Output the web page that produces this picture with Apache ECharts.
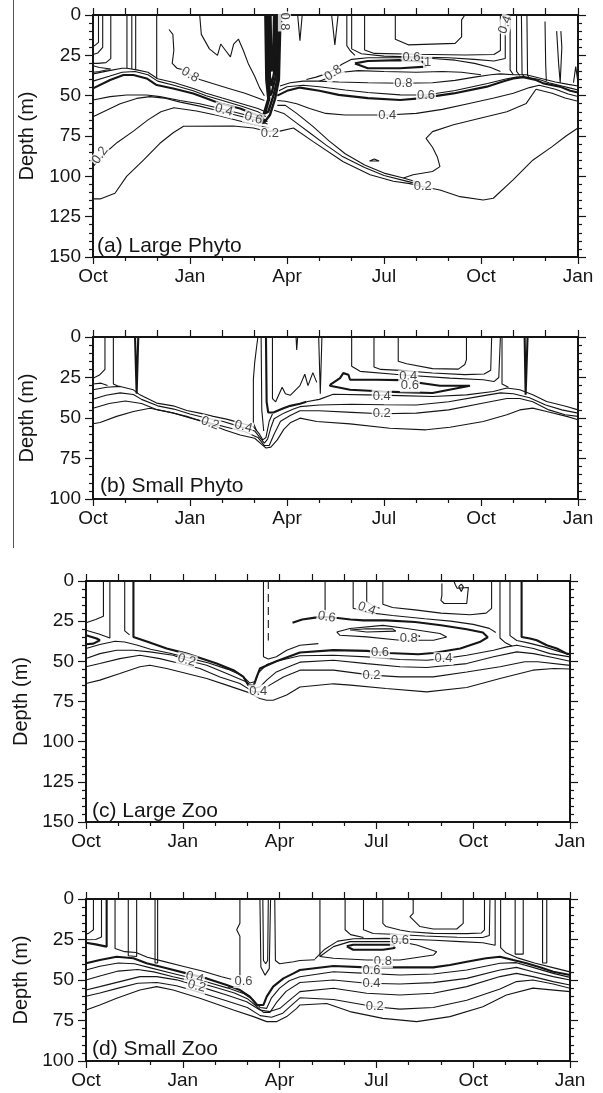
<!DOCTYPE html>
<html><head><meta charset="utf-8">
<script src="https://cdn.jsdelivr.net/npm/echarts@6/dist/echarts.min.js"></script>
<style>html,body{margin:0;padding:0;background:#fff}#c{width:603px;height:1093px}</style>
</head><body><div id="c"></div>
<script>
// ---------- axis/tick text ----------
const monthTicks = ['Oct','Jan','Apr','Jul','Oct','Jan'];
const depthMax = [150, 100, 150, 100];
const panelTitles = ['(a) Large Phyto', '(b) Small Phyto', '(c) Large Zoo', '(d) Small Zoo'];
const depthName = 'Depth (m)';

// ---------- contour lines: points are [months since 1 Oct, depth m] ----------
// Panel (a) Large Phyto
const a_thick = [
 [[0,45.5],[0.53,40.3],[0.94,37.2],[1.25,37.2],[1.66,39.3],[1.97,43.4],[2.48,45.5],[3.1,48.6],[3.52,51.7],[3.93,54.8],[4.55,58],[5.06,62],[5.37,66]],
 [[5.7,50],[6.0,47],[6.4,45],[7,47],[7.6,49.5],[8.5,51.5],[9.5,52.7],[10.1,51.7],[11.15,48.6],[12.18,44.4],[12.7,41],[13.0,39.3],[13.3,38.5],[13.7,40.3],[13.93,42.4],[14.44,44.4],[14.76,47],[15,48]],
 [[8.1,30],[8.5,28.5],[9.5,28],[10.2,29],[10.3,32],[9.5,33],[8.5,33],[8.1,30]]
];
const a_spike = [
 [[5.33,0],[5.36,40],[5.42,52],[5.27,62],[5.22,67],[5.3,66.5],[5.47,62],[5.63,52],[5.75,40],[5.8,0]],
 [[5.37,0],[5.4,40],[5.45,52],[5.32,61],[5.42,60],[5.58,50],[5.7,40],[5.75,0]],
 [[5.41,0],[5.43,40],[5.48,50],[5.53,48],[5.65,38],[5.7,0]],
 [[5.45,0],[5.47,38],[5.52,44],[5.6,36],[5.65,0]],
 [[5.49,0],[5.52,35],[5.57,30],[5.6,0]]
];
const a_lines = [
 [[0,114],[0.22,114],[0.68,110.5],[1.04,100],[1.56,90],[2.07,79.5],[2.48,73],[2.8,69],[4.34,68.8],[4.96,70],[5.37,72],[5.78,72],[6.2,70],[6.81,78.5],[7.74,91],[8.57,99],[9.29,103],[9.8,104.5],[10.1,106],[10.73,108.5],[11.35,112.6],[12.07,114.7],[12.38,113.6],[13,102],[13.6,90],[14.2,81.6],[14.63,75],[15,70]],
 [[0,94],[0.35,86],[0.75,79],[1.25,72],[1.7,65],[2.1,60],[2.5,57.5],[3.2,59.5],[3.9,62.5],[4.6,66],[5.2,69],[5.45,70]],
 [[0,63],[0.42,59],[0.84,55],[1.35,51.7],[1.76,50.6],[2.2,51.5],[2.7,54],[3.3,56.5],[3.9,59.5],[4.5,62.5],[5.1,65.5],[5.4,67.5]],
 [[0,52.7],[0.53,50.6],[1.04,49.6],[1.66,49.6],[2.07,50.6],[2.69,53],[3.3,55],[3.93,58],[4.55,61],[5.16,64.5],[5.4,66]],
 [[0,41],[0.5,38],[0.9,35.5],[1.3,35],[1.7,37],[2.0,41],[2.5,43.5],[3.1,47],[3.5,50],[4,53],[4.6,56.5],[5.1,60],[5.35,63]],
 [[0,36.5],[0.5,34.5],[0.9,33],[1.05,33],[1.35,34],[1.7,35.5],[2.0,39.5],[2.5,41.8],[3.1,45.5],[3.5,48.5],[4,51.5],[4.6,55],[5.1,58],[5.33,60]],
 [[0.17,0],[0.17,17],[0.05,19],[0,19]],
 [[0.3,0],[0.3,20],[0.15,23.5],[0,24.5]],
 [[0.55,0],[0.55,27],[0.4,29.5],[0.15,30],[0,30]],
 [[0,31.5],[0.2,32.5],[0.55,33.5],[0.2,35],[0,35.5]],
 [[1.05,0],[1.05,33]],[[1.2,0],[1.2,33.5]],[[1.32,0],[1.32,34]],
 [[1.97,0],[1.97,39.5]],
 [[2.35,9],[2.47,12],[2.5,22],[2.45,30],[2.6,33],[2.8,34],[3.0,37],[3.3,40],[3.7,42.5],[4.2,45.5],[4.7,48.5],[5.1,51.5],[5.3,53]],
 [[3.3,0],[3.35,12],[3.6,21],[3.85,25],[3.95,18],[4.1,22],[4.25,26],[4.35,18],[4.5,15],[4.65,22],[4.8,30],[5.0,38],[5.15,45],[5.3,50]],
 [[5.78,44],[6.1,42],[6.5,41],[7,41],[7.6,41.5],[8.5,42],[9.6,42.3],[10.5,42],[11.2,40.5],[11.8,38.5],[12.3,37],[12.6,36.5],[13,37],[13.4,37],[13.8,39],[14.3,41.5],[14.7,43],[15,44]],
 [[5.75,47],[6.0,44.5],[6.5,43.5],[7,44.5],[7.8,46.5],[8.5,48],[9.5,49.5],[10.3,49.6],[11.2,46.8],[12.2,42.5],[12.8,39.5],[13.1,38.5],[13.4,38.5],[13.8,40],[14.1,42],[14.5,44],[14.8,45.5],[15,46.5]],
 [[5.7,53],[5.95,53.5],[6.3,55],[6.7,58],[7.2,61],[7.8,62],[9.1,62],[10,61],[10.8,58.5],[11.6,55],[12.4,51.5],[13,48.5],[13.5,45],[13.8,43.5],[14.3,46],[14.7,49],[15,50.5]],
 [[13.7,46],[14.2,48.5],[14.6,51.5],[15,53.5]],
 [[5.7,56],[5.95,56],[6.3,61],[6.8,69],[7.3,78],[7.8,86],[8.4,93],[9.0,98],[9.6,101],[10.1,104]],
 [[5.6,59],[5.9,61],[6.3,67],[6.7,73],[7.2,80.5],[7.7,87.5],[8.4,94.5],[9.0,99.5],[9.6,102.5],[10.1,105]],
 [[13.7,46],[13.4,54.8],[12.8,60],[11.97,64],[11.15,68],[10.5,72.3],[10.3,76.5],[10.5,82],[10.65,88],[10.73,94],[10.5,97],[9.9,99],[9.6,101]],
 [[8.55,90.5],[8.7,89.3],[8.85,90.5],[8.55,90.5]],
 [[6.33,0],[6.4,16],[6.47,0]],
 [[7.38,0],[7.48,18.5],[7.58,0]],
 [[9.35,0],[9.35,15],[9.75,18.5],[11.2,17.6],[11.4,13.5],[11.4,3],[11.5,0]],
 [[8.4,0],[8.4,21.7],[8.7,23.8],[10,24.3],[11.5,24.8],[12.4,24.5],[12.6,22],[12.6,0]],
 [[8.0,0],[8.0,21],[8.3,24],[9,25.5],[10,26],[11,26.5],[11.8,27.5],[12.4,28.5],[12.75,27],[12.75,0]],
 [[7.85,0],[7.85,19],[7.95,22],[8.1,25]],
 [[6.6,40],[6.9,38.5],[7.2,36.5],[7.45,34],[7.7,30.5],[8.0,27.5],[8.5,26.5],[9.5,26.5],[10.5,27],[11.2,28],[11.8,30],[12.3,32.5],[12.6,35]],
 [[7.0,41],[7.4,38],[7.7,35.5],[8.2,34.5],[9,35],[10,35.5],[10.8,35],[11.4,35.5],[12,37]],
 [[12.9,0],[12.9,34],[13.0,37]],[[13.1,0],[13.1,35],[13.2,37.5]],[[13.25,0],[13.27,36.5],[13.35,38.5]],[[13.42,0],[13.44,37.5],[13.52,39.5]],
 [[13.98,4],[14.0,30],[14.02,41]],
 [[14.34,10],[14.4,30],[14.45,42],[14.5,20],[14.47,10]],
 [[14.86,42],[14.93,32],[15,42]]
];
const a_labels = [[3.0,37,'0.8'],[4.05,59,'0.4'],[4.96,64,'0.6'],[5.47,73.3,'0.2'],[0.22,87,'0.2'],[5.92,4,'0.8'],[7.43,36,'0.8'],[9.6,42.3,'0.8'],[10.3,49.6,'0.6'],[9.1,62,'0.4'],[10.2,106.2,'0.2'],[9.85,26.5,'0.6'],[10.35,29.5,'1'],[12.75,6,'0.4']];
const a_rot = [-30,-15,-15,0,55,-90,35,0,0,0,0,0,0,70];

// Panel (b) Small Phyto
const b_thick = [
 [[7.33,29.5],[7.64,25.4],[7.74,22.3],[7.9,23.3],[7.95,26.4],[8.77,26.4],[9.5,26.6],[10.73,30.1],[11.66,30.1],[11.3,31.5],[10.5,34.6],[9.5,34],[8.98,33.6],[7.95,32.6],[7.33,30.1],[7.33,29.5]],
 [[1.3,0],[1.35,35],[1.4,0]],
 [[13.35,0],[13.38,35.7],[13.44,0]],
 [[5.35,0],[5.37,40],[5.42,46.6],[5.58,46.6],[5.89,44],[6.1,42.5],[6.4,41.2],[6.6,40]]
];
const b_lines = [
 [[0,32.6],[0.42,31],[0.84,30.5],[1.25,32.6],[1.45,35.7],[1.97,40.8],[2.48,42.5],[2.9,45.4],[3.3,47],[3.72,49],[4.13,50.7],[4.55,53],[4.96,55.3],[5.15,60],[5.25,63.5],[5.35,62],[5.45,52],[5.55,47.5]],
 [[6.6,40],[7.0,38.5],[7.43,35.3],[8.47,35.7],[9.5,36.2],[10.5,36.7],[11.55,35.7],[12.38,33.6],[12.8,31.5],[13.2,32.6],[13.6,35.7],[14.03,39.8],[14.65,42.9],[15,45]],
 [[0,38.4],[0.4,36],[0.84,34.5],[1.25,35.5],[1.5,38.5],[2,42.5],[2.5,44.5],[3,47.5],[3.5,50],[4,52],[4.5,55],[5,58],[5.2,63],[5.3,65.5],[5.4,63],[5.5,56],[5.6,50.5],[5.9,47],[6.2,44.5],[6.4,43],[7,42],[8,41.5],[9,41.8],[10,42],[11,40],[12,36.5],[12.6,34.5],[13,35],[13.5,37.5],[14,42],[14.5,45],[15,47]],
 [[0,44],[0.5,41],[1,39.5],[1.5,41],[2,45],[2.5,47],[3,50],[3.6,53],[4.2,56],[4.7,58.5],[5.1,62],[5.3,67],[5.45,67],[5.6,60],[5.8,52],[6.1,48.5],[6.4,45.5],[7,45.5],[8,46.5],[8.93,47.4],[10,47],[11,45],[12,41],[12.8,38],[13.2,38],[13.6,40],[14.1,45],[14.6,48],[15,49]],
 [[0,53.6],[0.22,52.8],[0.73,49],[1.25,46],[1.76,44],[2.28,46],[2.9,49],[3.5,53],[4.1,57.5],[4.55,60.5],[5.0,62.5],[5.2,66],[5.35,68.5],[5.5,68],[5.7,63.5],[5.9,57],[6.1,53],[6.4,50.1],[6.92,52.2],[7.95,53.6],[9.18,56.3],[10.3,57.3],[11.04,55.7],[12.07,52.2],[12.8,48],[13.2,45],[13.6,43.9],[14.03,46],[14.65,49],[15,51.1]],
 [[0.37,0],[0.37,20],[0.2,23.5],[0,25.4]],
 [[0,29],[0.25,28.5],[0.45,30]],
 [[0.63,0],[0.63,29],[0.8,30.5]],
 [[5.1,0],[5.06,6],[5.0,16],[4.96,26],[4.96,53],[5.06,58]],
 [[5.2,0],[5.22,45],[5.28,58]],
 [[5.55,0],[5.55,38],[5.65,40],[5.85,31],[5.95,35],[6.1,36],[6.4,30],[6.55,23],[6.65,30],[6.8,22],[6.92,28]],
 [[6.98,0],[7.03,35],[7.08,0]],
 [[9.44,0],[9.44,15],[9.7,16.5],[10.5,19.5],[11.3,19.8],[11.5,17],[11.55,14],[11.55,0]],
 [[8.69,0],[8.69,18.5],[8.9,20],[9.5,20.6],[10.5,22.2],[11.5,23.2],[12.1,22.8],[12.3,20.5],[12.33,0]],
 [[8.0,0],[8.0,18.1],[8.26,21.2],[9.5,23.3],[11.04,25.4],[12.07,26.4],[12.4,27.5],[12.55,25],[12.6,0]],
 [[12.65,0],[12.65,29],[12.85,31]],
 [[6.28,0],[6.3,8],[6.33,0]]
];
const b_labels = [[3.62,53.2,'0.2'],[4.65,55.3,'0.4'],[8.93,36.7,'0.4'],[8.93,47.4,'0.2'],[9.75,24.5,'0.4'],[9.8,30.1,'0.6']];
const b_rot = [-20,-15,0,0,0,0];

// Panel (c) Large Zoo
const c_thick = [
 [[1.47,0],[1.47,34.8],[1.93,37.9],[2.5,42],[3.12,45.2],[4.05,51.4],[4.57,55.5],[4.88,59.7],[5.03,64.8],[5.2,65],[5.29,59.7],[5.39,54.5],[5.9,50],[6.63,44.5],[7.67,43],[8.7,43.5],[9.35,44.8],[10.3,45.6],[10.76,44.8],[11.6,42],[12.2,38],[12.45,35],[12.3,32],[11.8,30],[11.0,27.5],[10.2,25.5],[9.3,24.5],[8.6,24.5],[8.2,24],[7.8,23],[7.46,22.4],[7.1,22.8],[6.7,24],[6.4,26]],
 [[0,33.8],[0.33,35.8],[0.43,36.9],[0.23,39],[0,39.4]],
 [[13.5,0],[13.5,34.8],[13.76,35.8],[13.97,36.9],[14.28,40],[14.59,42],[14.9,45.2],[15,45.6]]
];
const c_dashed = [[[5.65,0],[5.65,37]]];
const c_lines = [
 [[0.54,0],[0.54,22],[0.3,24],[0,26]],
 [[0.74,0],[0.74,35.5],[0.4,33],[0,30.6]],
 [[1.2,0],[1.2,31],[1.35,33.5]],
 [[0,42],[0.43,39.5],[0.9,37.5],[1.2,38],[1.6,40],[2,42.5],[2.6,45],[3.2,48],[3.8,51],[4.4,55],[4.85,59],[5.08,63.5],[5.25,62.5],[5.35,57],[5.6,52],[6.0,49.5],[6.63,46.5],[7.67,46.2],[8.7,47.2],[9.73,48.9],[10.56,49.3],[11.08,48.3],[11.8,46.2],[12.63,43.1],[13.04,41],[13.35,40],[13.87,42],[14.38,45.2],[15,47.2]],
 [[0,48.3],[0.43,45.2],[0.95,43.1],[1.47,43.1],[1.98,44.1],[2.7,46.2],[3.12,49.3],[3.74,52.4],[4.36,57.6],[4.98,62.8],[5.19,66.9],[5.39,65.9],[5.6,61.7],[5.9,56.6],[6.32,53],[6.63,50.5],[7.67,49.3],[8.7,51.4],[9.73,53.4],[10.56,53.8],[11.8,51.4],[12.63,47.2],[13.35,44.1],[13.87,45.2],[14.5,47.8],[15,50]],
 [[0,53.4],[0.43,51.4],[1.05,48.3],[1.67,46.2],[2.29,48.3],[2.91,51.4],[3.53,54.5],[4.15,59.7],[4.77,63.8],[5.19,69],[5.39,69],[5.6,65.9],[6.12,59.7],[6.63,55.5],[7.67,55.5],[8.85,58.6],[9.73,59.7],[10.76,59.7],[11.8,56.6],[12.83,53.4],[13.6,50.3],[14,50.3],[15,52.5]],
 [[0,63.8],[0.43,61.7],[1.05,57.6],[1.67,53.4],[1.98,52.4],[2.5,54.5],[3.12,57.6],[3.74,60.7],[4.36,64.8],[4.98,69],[5.39,73.1],[5.6,74.2],[5.8,74.2],[6.22,71],[6.63,66],[7.67,64],[8.2,64.8],[9.3,66.9],[10.56,69],[11.8,66.3],[12.83,60.7],[13.85,55.5],[14.5,54.5],[15,54.8]],
 [[5.5,0],[5.5,47.2],[5.65,48.5],[5.9,47.2],[6.22,43.1],[6.63,40],[7.2,39]],
 [[7.41,0],[7.41,20]],
 [[8.7,0],[8.7,13],[8.9,15.5],[9.1,17]],
 [[9.2,0],[9.2,14.5],[9.5,16.5],[10.2,18],[11,20],[11.9,21],[12.4,20],[12.57,17],[12.57,0]],
 [[8.28,0],[8.28,17],[8.7,19.5],[9.5,21.5],[10.5,23.5],[11.3,25],[12,27],[12.5,29.5],[12.7,32]],
 [[11.03,1.5],[11.03,9],[11.0,12],[11.1,14],[11.8,14],[11.85,4],[11.5,4.5],[11.45,2.5],[11.4,0]],
 [[11.55,3.5],[11.63,2],[11.7,3.8],[11.63,6.5],[11.55,3.5]],
 [[12.83,0],[12.83,35.5],[13.0,38.5],[13.2,40.5]],
 [[13.14,0],[13.14,34],[13.35,37],[13.7,38.5],[14.2,41],[14.6,43.5],[15,46]],
 [[7.77,31.7],[8.18,29.6],[9.2,27.6],[9.94,29.6],[10.97,32.7],[11.18,34.8],[10.77,36.9],[9.73,36.9],[8.7,34.8],[7.87,33.8],[7.77,31.7]],
 [[8.18,30.5],[8.7,29.7],[9.5,29.8],[9.6,31.2],[8.7,31.7],[8.18,30.5]],
 [[10.2,33.5],[10.35,34.3],[10.2,35.2]]
];
const c_labels = [[3.12,49.3,'0.2'],[5.34,68.5,'0.4'],[7.46,22.4,'0.6'],[8.7,17.2,'0.4'],[10.0,35.8,'0.8'],[9.11,44.3,'0.6'],[11.08,48.3,'0.4'],[8.85,58.6,'0.2']];
const c_rot = [-15,0,-10,-20,0,0,0,0];

// Panel (d) Small Zoo
const d_thick = [
 [[0,39.7],[0.43,37.7],[0.95,35.6],[1.47,36.6],[1.88,39.7],[2.5,42.8],[3.12,45.9],[3.74,49],[4.36,53.1],[4.77,56.2],[5.08,60.3],[5.29,65.4],[5.5,65.4],[5.6,60.3],[5.8,54.1],[6.12,49],[6.43,45.9],[6.63,43.8],[7.67,41.4],[8.7,42.2],[9.73,42.2],[10.76,42.2],[11.28,40.7],[11.8,38.7],[12.4,36.6],[12.83,35.6],[13.24,37.7],[13.65,39.7],[14.07,42.2],[14.48,44.9],[15,46.9]],
 [[0,27],[0.3,28],[0.64,29.4],[0.64,0]],
 [[8.08,29.2],[8.28,28.2],[9.52,28.2],[9.57,30.2],[9.2,31.3],[8.28,31.3],[8.08,29.2]]
];
const d_lines = [
 [[0.23,0],[0.23,19],[0.08,21.2],[0,21.6]],
 [[0.48,0],[0.48,23.5],[0.3,25],[0,25.2]],
 [[0.9,0],[0.9,30.5],[1.2,32.5],[1.55,33],[1.9,36],[2.4,38.5],[3.0,41.5],[3.6,44.5],[4.2,48],[4.5,49.5]],
 [[1.31,0],[1.31,35],[1.57,35.5],[1.57,0]],
 [[2.14,0],[2.14,39.5],[2.22,39.5],[2.22,0]],
 [[4.77,0],[4.77,15],[4.67,19],[4.77,23],[4.77,54],[4.4,54.5]],
 [[5.39,0],[5.42,42],[5.55,47],[5.68,43],[5.72,0]],
 [[5.48,0],[5.5,38],[5.57,40],[5.63,38],[5.65,0]],
 [[5.85,0],[5.87,38],[6.0,40],[6.43,38.7],[6.63,38],[7.1,37.5]],
 [[0,43.8],[0.43,41.5],[1.0,39.5],[1.5,40],[2,42.5],[2.6,45.5],[3.2,48.5],[3.8,51.5],[4.4,55],[4.9,58.5],[5.2,62.5],[5.4,67],[5.6,67.5],[5.75,61],[6.0,55],[6.3,50.5],[6.63,48],[7.67,44.9],[8.7,45.9],[9.73,46.9],[10.76,46.3],[11.8,43.8],[12.83,39.7],[13.34,39.3],[13.85,42.2],[14.48,45.9],[15,48.4]],
 [[0,50],[0.43,47.5],[1.0,44.5],[1.6,43.5],[2.1,45],[2.7,48],[3.37,51],[4.0,54.5],[4.6,58],[5.0,61.5],[5.3,66.5],[5.5,70],[5.7,70],[5.9,64],[6.2,57],[6.63,51.5],[7.67,50],[8.7,52],[9.73,52.5],[10.76,51.6],[11.8,49],[12.83,43.8],[13.34,42.2],[13.85,44.9],[14.48,47.9],[15,50]],
 [[0,56.2],[0.43,54.1],[1.05,51],[1.67,47.9],[2.19,47.9],[2.81,49.9],[3.53,54.1],[4.36,59.3],[4.98,63.4],[5.39,68.5],[5.7,69.5],[6.01,67.5],[6.32,62.3],[6.63,57.2],[7.67,55.1],[8.7,58.2],[9.73,59.3],[10.76,58.2],[11.8,54.1],[12.83,47.9],[13.34,45.9],[13.85,47.9],[14.48,51],[15,53.1]],
 [[0,60],[0.43,58],[1.0,55],[1.6,52],[2.2,51.5],[2.8,53.5],[3.5,57.5],[4.3,62.5],[5.0,67],[5.4,72],[5.75,73],[6.1,70.5],[6.4,65],[6.63,61],[7.67,62],[8.95,66.5],[9.73,68],[10.76,67],[11.8,62.5],[12.83,55.5],[13.34,51],[13.85,50],[14.48,52.5],[15,55.1]],
 [[0,68.5],[0.43,65.4],[0.95,61.3],[1.67,56.2],[2.19,54.1],[2.7,56.2],[3.53,61.3],[4.57,68.5],[5.19,72.6],[5.6,75.7],[5.9,75.7],[6.22,72.6],[6.53,67.5],[6.63,65.4],[7.46,64.5],[8.18,69.5],[9.2,73.7],[10.25,75.7],[11.28,72.6],[12.3,66.5],[13.03,59.3],[13.85,55],[15,57.2]],
 [[7.25,0],[7.25,35.6]],
 [[7.25,35.5],[7.67,29.4],[8.18,26.3],[9.73,26.3],[10.25,28.4],[10.87,32.5],[10.77,34.6],[9.73,37.7],[8.7,37.7],[7.67,36.6],[7.25,35.5]],
 [[7.1,37],[7.4,31],[7.8,26],[8.3,24.5],[9.3,24.3],[10,24.8],[10.8,25.5],[11.6,26.3],[12.3,27],[12.68,28.5],[12.68,0]],
 [[8.03,0],[8.03,19],[8.2,22],[8.6,23.8]],
 [[8.6,0],[8.6,19],[8.9,21.3],[9.5,21.8],[10.5,22.8],[11.5,23.6],[12.3,23.8],[12.5,22.5],[12.52,0]],
 [[9.2,0],[9.2,15],[9.3,17],[9.73,19.1],[10.04,20.2],[10.76,21.2],[11.8,21.4],[12.25,21],[12.35,19],[12.35,0]],
 [[10.04,0],[10.14,0.6],[10.14,8.8],[10.04,10.9],[10.35,17],[10.76,18.5],[11.49,18.5],[11.69,15],[11.69,0]],
 [[12.85,0],[12.85,30],[13.0,33],[13.4,36.5],[13.9,39.5],[14.5,42.5],[15,45]],
 [[13.3,0],[13.3,34],[13.55,34],[13.55,0]],
 [[14.15,0],[14.15,39.5],[14.28,39.5],[14.28,0]]
];
const d_labels = [[3.37,48.5,'0.4'],[3.43,53.8,'0.2'],[4.88,51,'0.6'],[9.73,25.5,'0.6'],[9.2,38.7,'0.8'],[8.85,43.8,'0.6'],[8.85,52,'0.4'],[8.95,66.5,'0.2']];
const d_rot = [-15,-15,0,0,0,0,0,0];

// ---------- build ----------
const FONT = '"Liberation Sans", Arial, Helvetica, sans-serif';
const INK = '#151515';
const grids = [
 {left:93, top:15, width:485, height:242},
 {left:93, top:337, width:485, height:162},
 {left:86, top:581, width:484, height:241},
 {left:86, top:899, width:484, height:162}
];
const nameGaps = [56, 56, 50, 50];
const titlePos = [[97,246],[100,486],[92,811],[92,1049]];

const panels = [
 {thin:a_lines, thick:a_thick.concat([]), heavy:a_spike, dashed:[], labels:a_labels, rots:a_rot},
 {thin:b_lines, thick:b_thick, heavy:[], dashed:[], labels:b_labels, rots:b_rot},
 {thin:c_lines, thick:c_thick, heavy:[], dashed:c_dashed, labels:c_labels, rots:c_rot},
 {thin:d_lines, thick:d_thick, heavy:[], dashed:[], labels:d_labels, rots:d_rot}
];

const xAxes = [], yAxes = [], series = [];
grids.forEach((g, i) => {
  const axLine = {show:true, onZero:false, lineStyle:{color:INK, width:2}};
  xAxes.push({gridIndex:i, type:'value', min:0, max:15, interval:3, position:'bottom',
    axisLine:axLine, splitLine:{show:false},
    axisTick:{show:true, inside:false, length:7, lineStyle:{color:INK, width:1.2}},
    minorTick:{show:true, splitNumber:3, length:4, lineStyle:{color:INK, width:1.2}},
    axisLabel:{formatter:v => monthTicks[Math.round(v/3)], fontSize:19, color:INK, margin:10, fontFamily:FONT}});
  xAxes.push({gridIndex:i, type:'value', min:0, max:15, interval:1, position:'top',
    axisLine:axLine, splitLine:{show:false},
    axisTick:{show:true, inside:false, length:7, lineStyle:{color:INK, width:1.2}},
    axisLabel:{show:false}});
  yAxes.push({gridIndex:i, type:'value', inverse:true, min:0, max:depthMax[i], interval:25, position:'left',
    axisLine:axLine, splitLine:{show:false},
    axisTick:{show:true, inside:false, length:8, lineStyle:{color:INK, width:1.2}},
    minorTick:{show:true, splitNumber:5, length:4, lineStyle:{color:INK, width:1.2}},
    axisLabel:{fontSize:19, color:INK, margin:12, fontFamily:FONT},
    name:depthName, nameLocation:'middle', nameGap:nameGaps[i],
    nameTextStyle:{fontSize:20, color:INK, fontFamily:FONT}});
  yAxes.push({gridIndex:i, type:'value', inverse:true, min:0, max:depthMax[i], interval:25, position:'right',
    axisLine:axLine, splitLine:{show:false},
    axisTick:{show:true, inside:false, length:8, lineStyle:{color:INK, width:1.2}},
    minorTick:{show:true, splitNumber:5, length:4, lineStyle:{color:INK, width:1.2}},
    axisLabel:{show:false}});

  const p = panels[i];
  const add = (arr, width, type) => arr.forEach(pts => series.push({
    type:'line', xAxisIndex:2*i, yAxisIndex:2*i, data:pts, showSymbol:false, symbol:'none',
    lineStyle:{color:INK, width, type}, silent:true, animation:false, z:2, clip:true}));
  add(p.thin, 1.1, 'solid');
  add(p.thick, 2.1, 'solid');
  add(p.heavy, 2.4, 'solid');
  add(p.dashed, 1.1, [8,5]);
  series.push({type:'scatter', xAxisIndex:2*i, yAxisIndex:2*i, symbolSize:0, silent:true, animation:false, z:5,
    data:p.labels.map((l, k) => ({name:l[2], value:[l[0], l[1]], label:{rotate:p.rots[k]}})),
    label:{show:true, position:'inside', formatter:'{b}', fontSize:13, color:INK, fontFamily:FONT,
      backgroundColor:'#fff', padding:[0,1]}});
});

const graphic = [{type:'line', shape:{x1:13.5, y1:0, x2:13.5, y2:548}, style:{stroke:'#555', lineWidth:1}, silent:true}];
panelTitles.forEach((t, i) => graphic.push({type:'text', x:titlePos[i][0], y:titlePos[i][1], z:10,
  style:{text:t, fontSize:21, fill:INK, fontFamily:FONT, verticalAlign:'middle', align:'left'}, silent:true}));

const chart = echarts.init(document.getElementById('c'), null, {renderer:'canvas'});
chart.setOption({backgroundColor:'#fff', animation:false, grid:grids, xAxis:xAxes, yAxis:yAxes, series, graphic});
</script></body></html>
